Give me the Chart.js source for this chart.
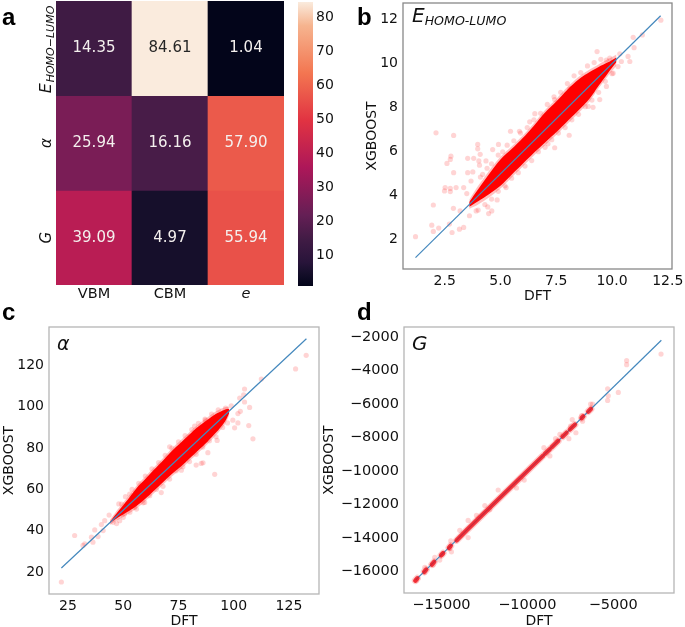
<!DOCTYPE html>
<html><head><meta charset="utf-8">
<script src="https://cdn.jsdelivr.net/npm/chart.js@4"></script>
<style>
html,body{margin:0;padding:0;background:#fff;width:685px;height:627px;overflow:hidden}
#wrap{position:relative;width:685px;height:627px;overflow:hidden;filter:blur(0.45px);font-family:"DejaVu Sans",sans-serif;color:#111}
canvas{position:absolute}
.tag{position:absolute;font:bold 24px "Liberation Sans",sans-serif;line-height:24px;color:#000}
.ins{position:absolute;font-style:italic;white-space:nowrap;color:#111}
</style></head><body><div id="wrap">
<div class="tag" style="left:2px;top:5px">a</div>
<div class="tag" style="left:357px;top:5px">b</div>
<div class="tag" style="left:2px;top:300px">c</div>
<div class="tag" style="left:357px;top:300px">d</div>
<div class="ins" style="left:412px;top:3px;font-size:20px;line-height:24px">E<span style="font-size:12.6px;position:relative;top:3px">HOMO-LUMO</span></div>
<div class="ins" style="left:57px;top:331px;font-size:19px;line-height:24px">α</div>
<div class="ins" style="left:412px;top:331px;font-size:20px;line-height:24px">G</div>
</div>
<script>
// ---------- panel a ----------
const heatCols = ['VBM','CBM','e'];
const heatRows = ['EHOMO−LUMO','α','G'];
const rowGap = [14.35,84.61,1.04];
const rowAlpha = [25.94,16.16,57.90];
const rowG = [39.09,4.97,55.94];
const barTicks = [10,20,30,40,50,60,70,80];
const rocketStops = [[0,'#03051a'],[0.047,'#160f2b'],[0.083,'#28143a'],[0.16,'#3f1b44'],[0.25,'#651f55'],[0.417,'#ad1759'],[0.583,'#e13342'],[0.75,'#f37651'],[0.917,'#f6b48f'],[1,'#faebdd']];
// ---------- panel b ----------
const bLine = [1.19,12.18];
const bXTicks = [2.5,5,7.5,10,12.5];
const bYTicks = [2,4,6,8,10,12];
const bBandX = [3.6,4,4.5,5,5.5,6,6.5,7,7.5,8,8.5,9,9.4,9.8,10.2];
const bCoreUp = [3.72,4.3,5.0,5.65,6.12,6.62,7.18,7.78,8.28,8.82,9.28,9.62,9.85,10.05,10.28];
const bCoreLow = [3.5,3.75,4.08,4.45,4.95,5.45,5.95,6.42,6.88,7.38,7.88,8.42,9.0,9.55,10.08];
const bHaloUp = [3.82,4.45,5.15,5.77,6.24,6.74,7.3,7.9,8.4,8.94,9.4,9.74,9.97,10.2,10.42];
const bHaloLow = [3.4,3.6,3.93,4.33,4.83,5.33,5.83,6.3,6.76,7.26,7.76,8.3,8.88,9.42,9.92];
const bOutX = [2.11,2.90,2.78,2.75,2.60,2.90,3.53,3.80,3.53,3.76,3.98,3.98,4.09,4.03,4.06,2.52,2.49,2.75,2.75,3.01,3.35,3.49,1.99,2.89,3.19,1.92,1.99,2.23,2.71,2.83,3.16,3.35,1.19,3.61,3.91,4.43,4.61,4.47,4.85,5.25,5.45,5.85,4.65,4.91,4.35,4.20,3.68,9.33,10.95,11.36,12.19,10.99,10.35,10.72,10.80,10.42,10.27,10.05,9.75,9.45,9.15,8.93,8.08,7.43,7.13,6.54,6.31,7.43,8.11,8.85,9.75,9.90];
const bOutY = [6.86,6.74,5.80,5.65,5.47,5.05,5.70,5.70,5.05,5.08,6.33,6.13,5.88,5.58,5.39,4.37,4.22,4.33,4.19,4.37,4.37,4.10,3.58,3.43,3.31,2.66,2.38,2.53,2.71,2.33,2.48,2.56,2.14,3.09,3.31,3.49,3.31,3.19,3.81,4.37,6.93,6.93,6.10,6.33,5.58,4.97,4.67,10.55,11.20,11.31,11.98,10.73,10.45,10.33,10.10,10.10,9.87,9.57,8.97,8.37,8.02,8.06,6.75,6.18,6.36,7.73,7.36,8.37,8.86,9.42,10.17,10.25];
const bEdgeX = [4.1,4.4,4.6,4.9,5.1,5.3,5.6,5.9,6.2,6.5,6.8,7.1,7.4,7.7,8.0,8.3,8.6,8.9,9.2,9.5,4.0,4.3,4.6,4.9,5.2,5.5,5.8,6.1,6.4,6.7,7.0,7.3,7.6,7.9,8.2,8.5,8.8,9.1,9.4,9.7,10.0];
const bEdgeY = [4.85,5.25,5.45,5.85,6.0,6.3,6.5,6.85,7.1,7.45,7.75,8.15,8.5,8.7,9.1,9.45,9.6,9.9,10.05,10.2,3.35,3.6,3.85,4.2,4.45,4.8,5.05,5.35,5.6,6.0,6.2,6.55,6.85,7.1,7.45,7.7,8.05,8.35,8.7,9.2,9.55];
// ---------- panel c ----------
const cLine = [22,132.9];
const cXTicks = [25,50,75,100,125];
const cYTicks = [20,40,60,80,100,120];
const cBandX = [44,48,52,56,60,64,68,72,76,80,84,88,92,96,98];
const cCoreUp = [44.4,49.8,55,60.6,65,69.6,74,78.6,82.6,86.6,90.4,93.6,96.6,98.6,99];
const cCoreLow = [43.7,46.6,49.2,52,55.5,59.5,63.5,67.5,71,75,79,83,87.5,92.8,97];
const cHaloUp = [45.2,51,56.2,61.8,66.2,70.8,75.2,79.8,83.8,87.8,91.6,94.8,97.8,99.8,100];
const cHaloLow = [42.9,45.4,48,50.8,54.3,58.3,62.3,66.3,69.8,73.8,77.8,81.8,86.3,91.6,96];
const cOutX = [28.0,22.0,32.6,31.8,35.6,37.1,36.3,38.6,40.1,41.6,43.6,40.9,45.4,48.4,50.6,52.9,49.2,55.2,59.7,67.2,132.8,128.0,112.5,104.9,104.5,102.7,104.9,107.2,106.8,108.7,101.9,100.4,99.6,103.0,101.9,96.3,98.9,87.2,88.3,92.5,86.1,80.1,82.3,97.2,91.4,71.0,76.3,85.3,83.0];
const cOutY = [37.7,15.2,33.7,32.9,36.9,40.4,34.5,37.2,43.0,44.9,47.6,40.1,44.1,44.9,48.1,57.7,52.9,51.3,53.7,58.5,124.9,118.3,113.4,108.6,105.8,104.2,102.3,99.7,90.9,84.5,92.2,89.8,93.5,97.8,96.7,99.4,100.5,93.5,77.8,83.7,72.9,85.8,90.6,92.2,67.3,80.6,69.3,72.6,71.8];
const cEdgeX = [48,51,54,57,60,63,66,69,72,75,78,81,84,87,90,93,47,50,53,56,59,62,65,68,71,74,77,80,83,86,89,92,95];
const cEdgeY = [53,56.5,60,63,66.5,70,73,76.5,80,83,86,89,92,94,96.5,98.5,43.5,46.5,49,50.5,53.5,57,60,61.5,65,69,71,73.5,77,80.5,83.5,85.5,90];
// ---------- panel d ----------
const dLine = [-16497,-2200];
const dXTicks = [-15000,-10000,-5000];
const dYTicks = [-16000,-14000,-12000,-10000,-8000,-6000,-4000,-2000];
const dRunX = [-16520,-16400,null,-16000,-15880,null,-15560,-15420,null,-15020,-14900,null,-14560,-14460,null,-14120,-13500,-12500,-11500,-10500,-9850,-9077,null,-8980,-8688,null,-8591,-8203,null,-7950,-7717,null,-7523,-7231,null,-6843,-6745,null,-6454,-6298];
const dRunY = [-16540,-16400,null,-16010,-15880,null,-15580,-15420,null,-15030,-14900,null,-14580,-14460,null,-14140,-13500,-12500,-11500,-10500,-9850,-9077,null,-8980,-8688,null,-8591,-8203,null,-7950,-7717,null,-7523,-7231,null,-6843,-6745,null,-6454,-6298];
const dOutX = [-2218,-4220,-4220,-5327,-5288,-5327,-4705,-6318,-6201,-6843,-6784,-7387,-7173,-7581,-8105,-8358,-7484,-8688,-9038,-13447,-13447,-13933,-11698,-10630,-14419,-14458,-15099,-15390,-15973,-16459,-15973,-15487,-14963,-14516,-12476,-12962,-12184,-10183];
const dOutY = [-3025,-3420,-3656,-5096,-5510,-5786,-5313,-6003,-6003,-6693,-7028,-6930,-7718,-8073,-7817,-8073,-7324,-9099,-8606,-12946,-13972,-13538,-11132,-11014,-14820,-14169,-15313,-15155,-15746,-16535,-16062,-15608,-14978,-14622,-12059,-12650,-12315,-10540];

const FONT='"DejaVu Sans",sans-serif', TXT='#111';
const wrap=document.getElementById('wrap');
const pts=(xs,ys)=>xs.map((x,i)=>({x:x,y:ys[i]}));
function hex(c){return [1,3,5].map(i=>parseInt(c.substr(i,2),16));}
function rocket(t){
  for(let i=1;i<rocketStops.length;i++){
    if(t<=rocketStops[i][0]){
      const [t0,c0]=rocketStops[i-1],[t1,c1]=rocketStops[i],a=hex(c0),b=hex(c1),f=(t-t0)/(t1-t0);
      return 'rgb('+a.map((v,k)=>Math.round(v+(b[k]-v)*f)).join(',')+')';
    }
  }
  return rocketStops[rocketStops.length-1][1];
}
function mk(left,top,w,h){const c=document.createElement('canvas');c.width=w;c.height=h;c.style.left=left+'px';c.style.top=top+'px';c.style.width=w+'px';c.style.height=h+'px';wrap.appendChild(c);return c;}
const frame=col=>({id:'frame',afterDatasetsDraw(ch){const a=ch.chartArea,x=ch.ctx;x.save();x.strokeStyle=col;x.lineWidth=1.3;x.strokeRect(a.left,a.top,a.right-a.left,a.bottom-a.top);x.restore();}});
const noPad=s=>{s.paddingLeft=0;s.paddingRight=0;s.paddingTop=0;s.paddingBottom=0;};

function panel(o){
  const axisW=o.L-o.titleLeft, axisH=o.titleBottom-(o.T+o.H), padT=2, padR=13;
  const cv=mk(o.L-axisW,o.T-padT,axisW+o.W+padR,padT+o.H+axisH);
  const ds=[];
  const none='rgba(0,0,0,0)';
  if(o.band){
    ds.push({data:pts(o.band.x,o.band.hu),fill:'+1',backgroundColor:'rgba(255,60,60,0.32)',borderColor:none,borderWidth:0,pointRadius:0,order:6,tension:.3});
    ds.push({data:pts(o.band.x,o.band.hl),fill:false,borderColor:none,borderWidth:0,pointRadius:0,order:6,tension:.3});
    ds.push({data:pts(o.band.x,o.band.cu),fill:'+1',backgroundColor:'#ff0000',borderColor:none,borderWidth:0,pointRadius:0,order:5,tension:.3});
    ds.push({data:pts(o.band.x,o.band.cl),fill:false,borderColor:none,borderWidth:0,pointRadius:0,order:5,tension:.3});
    ds.push({data:pts(o.edgeX,o.edgeY),showLine:false,pointRadius:2.6,pointBorderWidth:0,pointBackgroundColor:'rgba(255,0,0,0.17)',order:7});
  }
  if(o.run){
    ds.push({data:pts(o.run.x,o.run.y),borderColor:'rgba(255,60,60,0.25)',borderWidth:7,pointRadius:0,spanGaps:false,borderCapStyle:'round',order:6});
    ds.push({data:pts(o.run.x,o.run.y),borderColor:'rgba(238,10,20,0.78)',borderWidth:4.5,pointRadius:0,spanGaps:false,borderCapStyle:'round',order:0});
  }
  ds.push({data:pts(o.outX,o.outY),showLine:false,pointRadius:2.6,pointBorderWidth:0,pointBackgroundColor:'rgba(255,0,0,0.17)',order:4});
  ds.push({data:pts(o.line,o.line),borderColor:'#4488bd',borderWidth:1.2,pointRadius:0,order:1});
  return new Chart(cv,{type:'line',data:{datasets:ds},plugins:[frame(o.frame)],options:{
    responsive:false,animation:false,events:[],
    layout:{padding:{top:padT,right:padR,left:0,bottom:0}},
    plugins:{legend:{display:false},tooltip:{enabled:false}},
    scales:{
      x:{type:'linear',min:o.xr[0],max:o.xr[1],grid:{display:false,drawTicks:true,tickLength:3,tickColor:'#888'},border:{display:false},
        afterBuildTicks:s=>{s.ticks=o.xt.map(v=>({value:v}));},
        afterFit:s=>{s.height=axisH;noPad(s);},
        ticks:{autoSkip:false,maxRotation:0,font:{family:FONT,size:o.fs},color:TXT,padding:1,callback:o.xf},
        title:{display:true,text:'DFT',font:{family:FONT,size:14},color:TXT,padding:0}},
      y:{type:'linear',min:o.yr[0],max:o.yr[1],grid:{display:false,tickLength:3,tickColor:'#888'},border:{display:false},
        afterBuildTicks:s=>{s.ticks=o.yt.map(v=>({value:v}));},
        afterFit:s=>{s.width=axisW;noPad(s);},
        ticks:{autoSkip:false,font:{family:FONT,size:o.fs},color:TXT,padding:2,callback:v=>String(v).replace('-','−')},
        title:{display:true,text:'XGBOOST',font:{family:FONT,size:14},color:TXT,padding:0}}
    }}});
}
panel({L:403,T:1,W:269,H:268,titleLeft:364,titleBottom:305,fs:14,xr:[0.63,12.69],yr:[0.67,12.76],xt:bXTicks,yt:bYTicks,xf:v=>v.toFixed(1),
  band:{x:bBandX,cu:bCoreUp,cl:bCoreLow,hu:bHaloUp,hl:bHaloLow},edgeX:bEdgeX,edgeY:bEdgeY,outX:bOutX,outY:bOutY,line:bLine,frame:'#888'});
panel({L:49,T:325,W:270,H:269,titleLeft:1,titleBottom:630,fs:14,xr:[16.4,138.6],yr:[9.4,138.6],xt:cXTicks,yt:cYTicks,xf:v=>String(v),
  band:{x:cBandX,cu:cCoreUp,cl:cCoreLow,hu:cHaloUp,hl:cHaloLow},edgeX:cEdgeX,edgeY:cEdgeY,outX:cOutX,outY:cOutY,line:cLine,frame:'#b5b5b5'});
panel({L:404,T:325,W:270,H:268,titleLeft:321,titleBottom:630,fs:14.5,xr:[-17180,-1463],yr:[-17278,-1408],xt:dXTicks,yt:dYTicks,xf:v=>String(v).replace('-','−'),
  run:{x:dRunX,y:dRunY},outX:dOutX,outY:dOutY,line:dLine,frame:'#b5b5b5'});

// ---------- heatmap ----------
const heatVals=[rowGap,rowAlpha,rowG];
const vMin=Math.min(...heatVals.flat()),vMax=Math.max(...heatVals.flat());
const tOf=v=>(v-vMin)/(vMax-vMin);
const hc=mk(0,0,292,302);
new Chart(hc,{type:'bar',
  data:{labels:heatCols,datasets:heatVals.map((row,r)=>({data:row.map(()=>[r,r+1]),backgroundColor:row.map(v=>rocket(tOf(v))),borderWidth:0,barPercentage:1,categoryPercentage:1,grouped:false}))},
  plugins:[{id:'cells',afterDatasetsDraw(ch){
    const x=ch.ctx,sx=ch.scales.x,sy=ch.scales.y;
    x.save();x.textAlign='center';x.textBaseline='middle';x.font='15px '+FONT;
    heatVals.forEach((row,r)=>row.forEach((v,c)=>{
      x.fillStyle=v>80?'#262626':'#f4f0ee';
      x.fillText(v.toFixed(2),sx.getPixelForValue(c),sy.getPixelForValue(r+.5));
    }));
    x.fillStyle=TXT;
    heatRows.forEach((lab,r)=>{
      x.save();x.translate(51,sy.getPixelForValue(r+.5));x.rotate(-Math.PI/2);
      x.textBaseline='alphabetic';x.textAlign='left';
      if(r===0){
        x.font='italic 16px '+FONT;x.translate(-45,0);x.fillText(lab.charAt(0),0,0);
        x.font='italic 11px '+FONT;x.fillText(lab.slice(1),11,2.5);
      }else{x.textAlign='center';x.font='italic 15px '+FONT;x.fillText(lab,0,0);}
      x.restore();
    });
    x.restore();
  }}],
  options:{responsive:false,animation:false,events:[],
    layout:{padding:{left:56,top:1,right:8,bottom:0}},
    plugins:{legend:{display:false},tooltip:{enabled:false}},
    scales:{
      x:{type:'category',grid:{display:false,drawTicks:false},border:{display:false},afterFit:s=>{s.height=17;noPad(s);},
        ticks:{maxRotation:0,color:TXT,padding:1,font:c=>({family:FONT,size:14.5,style:c.index===2?'italic':'normal'})}},
      y:{type:'linear',min:0,max:3,reverse:true,display:false}
    }}});
// ---------- colour bar ----------
const bc=mk(298,0,60,292);
const bctx=bc.getContext('2d');
const grad=bctx.createLinearGradient(0,286,0,2);
rocketStops.forEach(s=>grad.addColorStop(s[0],s[1]));
new Chart(bc,{type:'bar',
  data:{labels:['scale'],datasets:[{data:[[vMin,vMax]],backgroundColor:grad,borderWidth:0,barPercentage:1,categoryPercentage:1}]},
  options:{responsive:false,animation:false,events:[],
    layout:{padding:{top:2,bottom:6,left:0,right:0}},
    plugins:{legend:{display:false},tooltip:{enabled:false}},
    scales:{
      x:{display:false},
      y:{type:'linear',position:'right',min:vMin,max:vMax,grid:{display:false,drawTicks:false},border:{display:false},
        afterBuildTicks:s=>{s.ticks=barTicks.map(v=>({value:v}));},
        afterFit:s=>{s.width=45;noPad(s);},
        ticks:{autoSkip:false,font:{family:FONT,size:14},color:TXT,padding:3}}
    }}});
</script></body></html>
